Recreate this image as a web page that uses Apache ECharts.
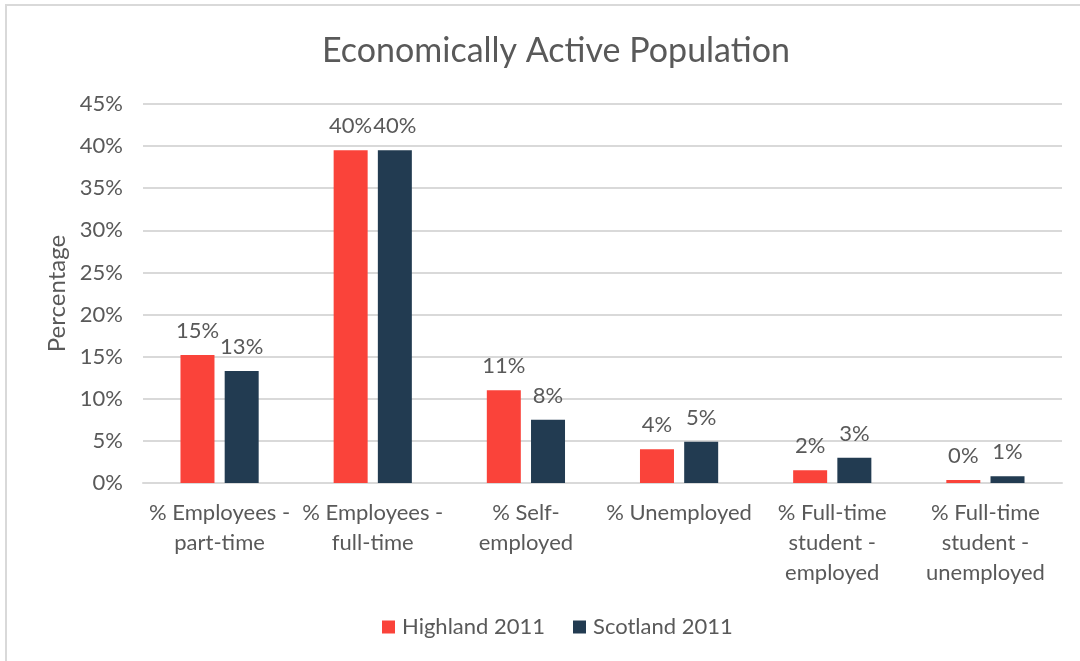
<!DOCTYPE html>
<html>
<head>
<meta charset="utf-8">
<script src="https://cdn.jsdelivr.net/npm/echarts@6/dist/echarts.min.js"></script>
<style>
  html, body { margin: 0; padding: 0; background: #ffffff; }
  #chart { width: 1080px; height: 661px; }
</style>
</head>
<body>
<div id="chart"></div>
<script>
// Economic activity categories (line breaks as shown under the axis)
const categories = [
  '% Employees -\npart-time',
  '% Employees -\nfull-time',
  '% Self-\nemployed',
  '% Unemployed',
  '% Full-time\nstudent -\nemployed',
  '% Full-time\nstudent -\nunemployed'
];
// Shares of the economically active population, in percent
const highland2011 = [15.2, 39.5, 11.0, 4.0, 1.5, 0.35];
const scotland2011 = [13.3, 39.5, 7.5, 4.9, 3.0, 0.8];
const seriesNames = ['Highland 2011', 'Scotland 2011'];
const yTicks = { min: 0, max: 45, interval: 5 };

const FONT = 'Lato, "Open Sans", sans-serif';
const TEXT = '#595959';

const chart = echarts.init(document.getElementById('chart'), null, { renderer: 'canvas' });

const labelCfg = {
  show: true,
  position: 'top',
  distance: 13,
  color: TEXT,
  fontFamily: FONT,
  fontSize: 22,
  formatter: p => Math.round(p.value) + '%'
};

chart.setOption({
  backgroundColor: '#ffffff',
  animation: false,
  graphic: [{
    type: 'rect',
    shape: { x: 6, y: 5, width: 1200, height: 800 },
    style: { fill: 'none', stroke: '#d9d9d9', lineWidth: 2 },
    silent: true
  }],
  title: {
    text: 'Economically Active Population',
    left: 317,
    top: 29,
    textStyle: { color: TEXT, fontFamily: FONT, fontSize: 34, fontWeight: 'normal' }
  },
  legend: {
    data: seriesNames,
    bottom: 18,
    left: 377,
    itemWidth: 13,
    itemHeight: 13,
    itemGap: 28,
    icon: 'rect',
    textStyle: { color: TEXT, fontFamily: FONT, fontSize: 22, padding: [0, 0, 0, 2] }
  },
  grid: { left: 143, right: 18, top: 104, bottom: 178, containLabel: false },
  xAxis: {
    type: 'category',
    data: categories,
    axisTick: { show: false },
    axisLine: { show: true, lineStyle: { color: '#d9d9d9', width: 2 } },
    axisLabel: {
      interval: 0,
      color: TEXT,
      fontFamily: FONT,
      fontSize: 22,
      lineHeight: 30,
      margin: 15
    }
  },
  yAxis: {
    type: 'value',
    min: yTicks.min,
    max: yTicks.max,
    interval: yTicks.interval,
    name: 'Percentage',
    nameLocation: 'middle',
    nameGap: 70,
    nameTextStyle: { color: TEXT, fontFamily: FONT, fontSize: 24 },
    axisLine: { show: false },
    axisTick: { show: false },
    axisLabel: {
      color: TEXT,
      fontFamily: FONT,
      fontSize: 22,
      margin: 20,
      formatter: v => v + '%'
    },
    splitLine: { lineStyle: { color: '#d9d9d9', width: 2 } }
  },
  series: [
    {
      name: seriesNames[0],
      type: 'bar',
      data: highland2011,
      barWidth: 34,
      barGap: '30%',
      itemStyle: { color: '#fa433a' },
      label: labelCfg
    },
    {
      name: seriesNames[1],
      type: 'bar',
      data: scotland2011,
      barWidth: 34,
      itemStyle: { color: '#223b51' },
      label: labelCfg
    }
  ]
});
</script>
</body>
</html>
